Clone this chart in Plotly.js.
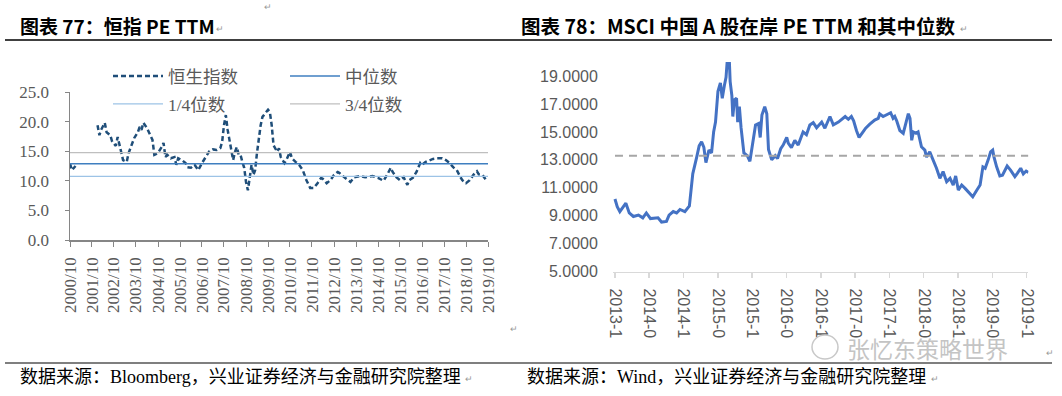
<!DOCTYPE html>
<html><head><meta charset="utf-8">
<script src="https://cdn.plot.ly/plotly-3.0.1.min.js"></script>
<style>html,body{margin:0;padding:0;background:#fff}#chart{width:1062px;height:396px}</style>
</head><body><div id="chart"></div>
<script>
// ---------- Left chart: 恒指 PE TTM ----------
const hsiDates = ['2000-10','2000-11','2001-01','2001-06','2002-01','2002-02','2002-03','2002-05','2002-06','2002-08','2002-09','2002-11','2002-12','2003-01','2003-02','2003-03','2003-05','2003-06','2003-07','2003-09','2003-11','2003-12','2004-01','2004-02','2004-04','2004-06','2004-07','2004-08','2004-10','2004-12','2005-01','2005-02','2005-03','2005-05','2005-07','2005-08','2005-09','2005-11','2006-01','2006-02','2006-04','2006-06','2006-07','2006-08','2006-10','2006-12','2007-02','2007-04','2007-06','2007-08','2007-09','2007-10','2007-11','2007-12','2008-01','2008-03','2008-04','2008-05','2008-06','2008-07','2008-08','2008-09','2008-10','2008-11','2008-12','2009-01','2009-02','2009-03','2009-04','2009-05','2009-06','2009-07','2009-09','2009-10','2009-11','2009-12','2010-01','2010-03','2010-04','2010-05','2010-07','2010-08','2010-10','2010-11','2011-01','2011-03','2011-05','2011-07','2011-09','2011-11','2012-01','2012-03','2012-04','2012-06','2012-08','2012-10','2012-12','2013-01','2013-04','2013-07','2013-09','2013-12','2014-03','2014-07','2014-10','2015-01','2015-03','2015-05','2015-06','2015-08','2015-10','2015-12','2016-02','2016-03','2016-05','2016-07','2016-09','2016-10','2016-12','2017-02','2017-04','2017-06','2017-08','2017-09','2017-11','2018-01','2018-03','2018-05','2018-07','2018-08','2018-10','2018-12','2019-02','2019-04','2019-05','2019-07','2019-09'];
const hsiPE = [12.9,11.8,12.5,null,19.4,17.7,18.6,19.8,18.2,17.7,16.6,15.9,17.4,16.0,14.4,13.5,13.2,14.7,15.5,17.2,18.2,19.1,18.6,19.8,18.9,17.7,16.9,14.4,14.7,15.7,16.4,14.0,14.4,13.8,14.0,12.7,13.8,13.5,13.0,12.3,12.2,12.7,12.3,11.8,13.0,14.0,15.0,15.3,15.2,15.5,16.6,19.4,21.1,18.6,16.9,13.5,14.9,15.7,14.4,14.4,13.2,12.2,9.8,8.4,10.5,12.7,11.0,11.8,14.7,17.2,19.4,20.8,21.5,22.0,21.6,19.4,16.0,14.9,15.5,14.0,13.0,13.5,14.9,13.8,13.2,12.7,11.8,10.1,8.8,8.8,9.6,10.5,10.3,9.6,10.1,11.0,11.5,11.3,10.5,9.8,10.6,10.8,10.6,10.8,10.5,10.0,11.0,12.2,11.5,10.6,10.1,10.6,9.3,10.1,10.5,11.5,13.0,12.7,13.2,13.5,13.7,13.8,13.8,13.8,13.5,13.0,12.3,11.8,10.6,10.1,9.6,10.1,11.0,11.6,11.1,11.0,10.1];
const hsiMedian = 12.9;
const hsiQ1 = 10.76;
const hsiQ3 = 14.75;
const hsiRange = ['2000-10-01','2019-10-01'];
const hsiTickLabels = ['2000/10','2001/10','2002/10','2003/10','2004/10','2005/10','2006/10','2007/10','2008/10','2009/10','2010/10','2011/10','2012/10','2013/10','2014/10','2015/10','2016/10','2017/10','2018/10','2019/10'];
const hsiNames = ['恒生指数','中位数','1/4位数','3/4位数'];

// ---------- Right chart: MSCI 中国A股在岸 PE TTM ----------
const msciDates = ['2013-10-01','2013-10-13','2013-10-27','2013-11-14','2013-11-28','2013-12-16','2014-01-07','2014-02-03','2014-02-26','2014-03-17','2014-04-08','2014-05-18','2014-06-06','2014-07-02','2014-07-16','2014-08-07','2014-08-25','2014-09-12','2014-10-08','2014-11-01','2014-11-19','2014-12-10','2014-12-23','2015-01-05','2015-01-17','2015-01-28','2015-02-13','2015-02-27','2015-03-10','2015-03-20','2015-04-02','2015-04-15','2015-04-25','2015-05-06','2015-05-15','2015-05-22','2015-06-01','2015-06-06','2015-06-15','2015-06-20','2015-06-29','2015-07-10','2015-07-16','2015-07-25','2015-08-03','2015-08-18','2015-09-05','2015-09-19','2015-10-03','2015-10-19','2015-11-04','2015-11-13','2015-11-22','2015-12-07','2015-12-18','2015-12-27','2016-01-13','2016-02-01','2016-02-13','2016-03-01','2016-03-14','2016-04-02','2016-04-10','2016-04-27','2016-05-15','2016-06-02','2016-06-28','2016-07-16','2016-08-03','2016-08-21','2016-09-08','2016-10-05','2016-10-22','2016-11-18','2016-12-06','2017-01-02','2017-02-07','2017-02-24','2017-03-12','2017-03-24','2017-04-08','2017-04-22','2017-05-13','2017-05-27','2017-06-18','2017-07-14','2017-08-02','2017-08-10','2017-08-28','2017-09-24','2017-10-07','2017-10-20','2017-10-29','2017-11-08','2017-11-25','2017-12-13','2018-01-09','2018-01-18','2018-01-27','2018-02-05','2018-02-19','2018-03-02','2018-03-20','2018-04-07','2018-04-16','2018-05-03','2018-05-21','2018-06-08','2018-06-26','2018-07-13','2018-08-01','2018-08-19','2018-09-05','2018-09-18','2018-10-02','2018-10-20','2018-11-07','2018-11-25','2018-12-18','2019-01-09','2019-01-26','2019-02-10','2019-02-22','2019-03-10','2019-03-23','2019-04-03','2019-04-10','2019-04-24','2019-05-11','2019-05-25','2019-06-19','2019-07-07','2019-07-30','2019-08-12','2019-08-30','2019-09-13','2019-09-28','2019-10-10'];
const msciPE = [10.2,9.65,9.3,9.65,9.9,9.2,8.95,9.05,8.85,9.2,8.8,8.85,8.55,8.6,9.05,9.3,9.2,9.45,9.3,9.7,12.0,13.2,14.0,14.3,13.9,12.8,13.7,13.5,15.0,15.7,17.9,18.5,17.4,18.3,18.9,20.2,20.3,18.6,17.6,16.1,17.3,17.4,15.7,16.8,15.3,13.5,13.3,12.9,14.1,15.5,15.6,14.6,16.2,16.8,16.3,13.75,13.0,13.3,13.1,13.8,14.06,14.6,14.2,13.87,14.4,14.06,15.0,14.8,15.5,15.66,15.3,15.7,15.26,16.1,15.5,15.7,16.1,15.9,16.1,15.8,15.1,14.6,15.0,15.27,15.55,15.85,15.97,16.28,16.1,16.28,16.37,15.97,16.1,15.8,15.1,14.9,16.3,15.97,14.4,15.0,14.9,15.0,13.94,13.7,13.2,13.57,13.0,12.4,11.68,12.16,11.44,11.68,11.2,11.85,10.84,11.2,10.96,10.72,10.36,10.84,11.2,12.5,12.4,13.0,13.58,13.7,13.2,12.5,11.85,11.9,12.56,12.27,11.8,12.04,12.4,12.0,12.2,12.1];
const msciMedian = 13.3;
const msciRange = ['2013-09-20','2019-10-10'];
const msciTickLabels = ['2013-10','2014-04','2014-10','2015-04','2015-10','2016-04','2016-10','2017-04','2017-10','2018-04','2018-10','2019-04','2019-10'];
const msciYTicks = [5,7,9,11,13,15,17,19];

// ---------- Page texts ----------
const titleLeft = '图表 77：恒指 PE TTM';
const titleRight = '图表 78：MSCI 中国 A 股在岸 PE TTM 和其中位数';
const sourceLeft = '数据来源：Bloomberg，兴业证券经济与金融研究院整理';
const sourceRight = '数据来源：Wind，兴业证券经济与金融研究院整理';
const watermark = '张忆东策略世界';
const paraMark = '↵';

const W = 1062, H = 396;
const px = x => x / W, py = y => 1 - y / H;

const GRAY = '#595959';
const serifCJK = 'Liberation Serif, "Noto Sans CJK SC", serif';

const traces = [
  {x: hsiDates, y: hsiPE, name: hsiNames[0], type: 'scatter', mode: 'lines', connectgaps: false,
   line: {color: '#1f4e79', width: 2.5, dash: '5px,3px'}, xaxis: 'x', yaxis: 'y', legend: 'legend'},
  {x: hsiRange, y: [hsiMedian, hsiMedian], name: hsiNames[1], type: 'scatter', mode: 'lines',
   line: {color: '#3f7fc0', width: 1.5}, xaxis: 'x', yaxis: 'y', legend: 'legend2'},
  {x: hsiRange, y: [hsiQ1, hsiQ1], name: hsiNames[2], type: 'scatter', mode: 'lines',
   line: {color: '#9dc3e6', width: 1.2}, xaxis: 'x', yaxis: 'y', legend: 'legend3'},
  {x: hsiRange, y: [hsiQ3, hsiQ3], name: hsiNames[3], type: 'scatter', mode: 'lines',
   line: {color: '#bfbfbf', width: 1.2}, xaxis: 'x', yaxis: 'y', legend: 'legend4'},
  {x: msciDates, y: msciPE, name: 'MSCI中国A股在岸', type: 'scatter', mode: 'lines', showlegend: false,
   line: {color: '#4472c4', width: 3}, xaxis: 'x2', yaxis: 'y2'},
  {x: [msciDates[0], msciDates[msciDates.length - 1]], y: [msciMedian, msciMedian], name: '中位数', type: 'scatter', mode: 'lines', showlegend: false,
   line: {color: '#a6a6a6', width: 2, dash: '8px,6px'}, xaxis: 'x2', yaxis: 'y2'}
];

function legendAt(x, y) {
  return {x: px(x), y: py(y), xanchor: 'left', yanchor: 'middle', orientation: 'h',
    bgcolor: 'rgba(0,0,0,0)', borderwidth: 0, itemwidth: 50,
    font: {family: serifCJK, size: 17.5, color: GRAY}};
}

function note(text, x, y, font) {
  return {text: text, xref: 'paper', yref: 'paper', x: px(x), y: py(y), xanchor: 'left', yanchor: 'middle', showarrow: false, font: font};
}
const titleFont = {family: '"Noto Sans CJK SC", sans-serif', size: 19, color: '#000', weight: 700};
const sourceFont = {family: serifCJK, size: 18, color: '#000'};
const markFont = {size: 9, color: '#999'};

const layout = {
  width: W, height: H, margin: {l: 0, r: 0, t: 0, b: 0},
  paper_bgcolor: '#ffffff', plot_bgcolor: 'rgba(0,0,0,0)',
  showlegend: true,
  xaxis: {
    domain: [px(70), px(488)], type: 'date', range: hsiRange,
    tickvals: hsiTickLabels.map(t => t.replace('/', '-') + '-01'), ticktext: hsiTickLabels,
    tickangle: -90, ticks: 'outside', ticklen: 5, tickcolor: '#868686', tickwidth: 1,
    showline: true, linecolor: '#868686', linewidth: 1.5, showgrid: false, zeroline: false,
    tickfont: {family: 'Liberation Serif, serif', size: 17, color: GRAY}, ticklabelstandoff: 4
  },
  yaxis: {
    domain: [py(240), py(92)], range: [0, 25], dtick: 5, tickformat: '.1f',
    ticks: 'outside', ticklen: 4, tickcolor: '#868686', showline: true, linecolor: '#868686', linewidth: 1.5,
    showgrid: false, zeroline: false, anchor: 'x',
    tickfont: {family: 'Liberation Serif, serif', size: 17, color: GRAY}, ticklabelstandoff: 12
  },
  xaxis2: {
    domain: [px(612.9), px(1028.4)], type: 'date', range: msciRange, anchor: 'y2',
    tickvals: msciTickLabels.map(t => t + '-01'), ticktext: msciTickLabels,
    tickangle: 90, ticks: 'outside', ticklen: 5, tickcolor: '#d9d9d9', tickwidth: 1.5,
    showline: true, linecolor: '#d9d9d9', linewidth: 1.5, showgrid: false, zeroline: false,
    tickfont: {family: 'Liberation Sans, Arial, sans-serif', size: 16, color: GRAY}, ticklabelstandoff: 7
  },
  yaxis2: {
    domain: [py(271.7), py(62)], range: [5, 20], tickvals: msciYTicks, tickformat: '.4f',
    ticks: '', showline: false, showgrid: false, zeroline: false, anchor: 'x2',
    tickfont: {family: 'Liberation Sans, Arial, sans-serif', size: 16, color: GRAY}, ticklabelstandoff: 14
  },
  legend: legendAt(108, 76),
  legend2: legendAt(285, 76),
  legend3: legendAt(108, 104),
  legend4: legendAt(285, 104),
  shapes: [
    {type: 'line', xref: 'paper', yref: 'paper', x0: px(5), x1: px(1052), y0: py(40), y1: py(40), line: {color: '#000', width: 1.5}},
    {type: 'rect', xref: 'paper', yref: 'paper', x0: px(560), x1: px(1062), y0: py(362), y1: py(338), fillcolor: '#fff', line: {width: 0}, layer: 'above'},
    {type: 'line', xref: 'paper', yref: 'paper', x0: px(5), x1: px(1052), y0: py(363), y1: py(363), line: {color: '#000', width: 1.2}},
    {type: 'circle', xref: 'paper', yref: 'paper', x0: px(812), x1: px(838), y0: py(359), y1: py(335), fillcolor: 'rgba(0,0,0,0)', line: {color: '#c8c8c8', width: 1.5}, layer: 'above'}
  ],
  annotations: [
    note(titleLeft, 18, 25, titleFont),
    note(paraMark, 214, 29, markFont),
    note(titleRight, 519, 25, {family: '"Noto Sans CJK SC", sans-serif', size: 19.5, color: '#000', weight: 700}),
    note(paraMark, 958, 29, markFont),
    note(sourceLeft, 18, 377, sourceFont),
    note(paraMark, 463, 378, markFont),
    note(sourceRight, 525, 377, sourceFont),
    note(paraMark, 929, 378, markFont),
    note(watermark, 845, 348, {family: '"Noto Sans CJK SC", sans-serif', size: 23, color: '#c4c4c4'}),
    note(paraMark, 262, 7, markFont),
    note(paraMark, 508, 328, markFont),
    note(paraMark, 1044, 352, markFont)
  ]
};

Plotly.newPlot('chart', traces, layout, {displayModeBar: false, staticPlot: true});
</script></body></html>
